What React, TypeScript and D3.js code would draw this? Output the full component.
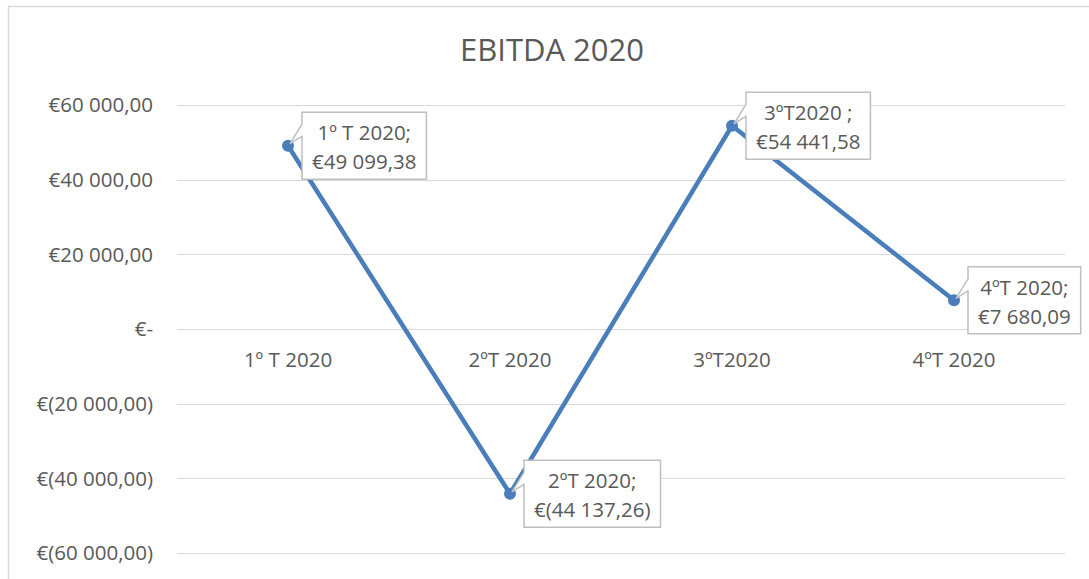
import React, { useEffect, useRef } from "react";
import * as d3 from "d3";

const categories = ["1º T 2020", "2ºT 2020", "3ºT2020", "4ºT 2020"];
const calloutLabels = ["1º T 2020;", "2ºT 2020;", "3ºT2020 ;", "4ºT 2020;"];
const values = [49099.38, -44137.26, 54441.58, 7680.09];
const yTicks = [-60000, -40000, -20000, 0, 20000, 40000, 60000];
const title = "EBITDA 2020";

const W = 1089;
const H = 579;
const FONT = "'Open Sans', sans-serif";
const TEXT = "#595959";
const GRID = "#d9d9d9";
const LINE = "#4a7ebb";
const FS = 20.5;

function fmtNum(v: number, dec = 2) {
  const a = Math.abs(v);
  const s = a.toFixed(dec);
  const [ip, dp] = s.split(".");
  const ig = ip.replace(/\B(?=(\d{3})+(?!\d))/g, " ");
  return dp ? `${ig},${dp}` : ig;
}
function fmtEuro(v: number) {
  if (v === 0) return "€-";
  if (v < 0) return `€(${fmtNum(v)})`;
  return `€${fmtNum(v)}`;
}

export default function App() {
  const ref = useRef<SVGSVGElement>(null);
  useEffect(() => {
    const svg = d3.select(ref.current);
    svg.selectAll("*").remove();

    const x = d3.scaleBand<string>().domain(categories).range([177, 1065]);
    const y = d3.scaleLinear().domain([-60000, 60000]).range([553, 105]);

    svg.append("rect").attr("x", 0).attr("y", 0).attr("width", W).attr("height", H).attr("fill", "#fff");
    svg.append("rect").attr("x", 8.5).attr("y", 6.5).attr("width", 1200).attr("height", 700)
      .attr("fill", "#fff").attr("stroke", GRID).attr("stroke-width", 1.5);

    svg.append("text").attr("x", 552).attr("y", 50).attr("dy", "0.35em").attr("text-anchor", "middle")
      .attr("font-family", FONT).attr("font-size", 31).attr("fill", TEXT).text(title);

    const g = svg.append("g");
    g.selectAll("line.grid").data(yTicks).enter().append("line")
      .attr("x1", 177).attr("x2", 1065)
      .attr("y1", (d) => Math.round(y(d)) + 0.5).attr("y2", (d) => Math.round(y(d)) + 0.5)
      .attr("stroke", GRID).attr("stroke-width", 1);

    g.selectAll("text.yt").data(yTicks).enter().append("text")
      .attr("x", 153).attr("y", (d) => y(d)).attr("dy", "0.35em").attr("text-anchor", "end")
      .attr("font-family", FONT).attr("font-size", FS).attr("fill", TEXT)
      .text((d) => fmtEuro(d));

    g.selectAll("text.xt").data(categories).enter().append("text")
      .attr("x", (d) => (x(d) as number) + x.bandwidth() / 2).attr("y", 360).attr("dy", "0.35em")
      .attr("text-anchor", "middle").attr("font-family", FONT).attr("font-size", FS).attr("fill", TEXT)
      .text((d) => d);

    const pts = categories.map((c, i) => [(x(c) as number) + x.bandwidth() / 2, y(values[i])] as [number, number]);
    const line = d3.line<[number, number]>();
    g.append("path").attr("d", line(pts)).attr("fill", "none").attr("stroke", LINE)
      .attr("stroke-width", 4.5).attr("stroke-linejoin", "round").attr("stroke-linecap", "round");
    g.selectAll("circle").data(pts).enter().append("circle")
      .attr("cx", (d) => d[0]).attr("cy", (d) => d[1]).attr("r", 6).attr("fill", LINE);

    pts.forEach((p, i) => {
      const cg = g.append("g");
      const path = cg.append("path");
      const t1 = cg.append("text").attr("font-family", FONT).attr("font-size", FS).attr("fill", TEXT)
        .attr("text-anchor", "middle").text(calloutLabels[i]);
      const t2 = cg.append("text").attr("font-family", FONT).attr("font-size", FS).attr("fill", TEXT)
        .attr("text-anchor", "middle").text(fmtEuro(values[i]));
      const w1 = (t1.node() as SVGTextElement).getComputedTextLength();
      const w2 = (t2.node() as SVGTextElement).getComputedTextLength();
      const bw = Math.max(w1, w2) + 20;
      const bh = 67;
      const left = p[0] + 14;
      const top = p[1] - bh / 2;
      const cx = left + bw / 2;
      t1.attr("x", cx).attr("y", p[1] - 13).attr("dy", "0.35em");
      t2.attr("x", cx).attr("y", p[1] + 16).attr("dy", "0.35em");
      const wa = top + bh * 0.18;
      const wb = top + bh * 0.36;
      const tip: [number, number] = [p[0] + 2, p[1] - 2];
      const d = `M${left},${top} L${left + bw},${top} L${left + bw},${top + bh} L${left},${top + bh} L${left},${wb} L${tip[0]},${tip[1]} L${left},${wa} Z`;
      path.attr("d", d).attr("fill", "#fff").attr("stroke", "#bfbfbf").attr("stroke-width", 1.5);
    });
  }, []);
  return (
    <svg ref={ref} width={W} height={H} style={{ position: "absolute", left: 0, top: 0 }} />
  );
}
